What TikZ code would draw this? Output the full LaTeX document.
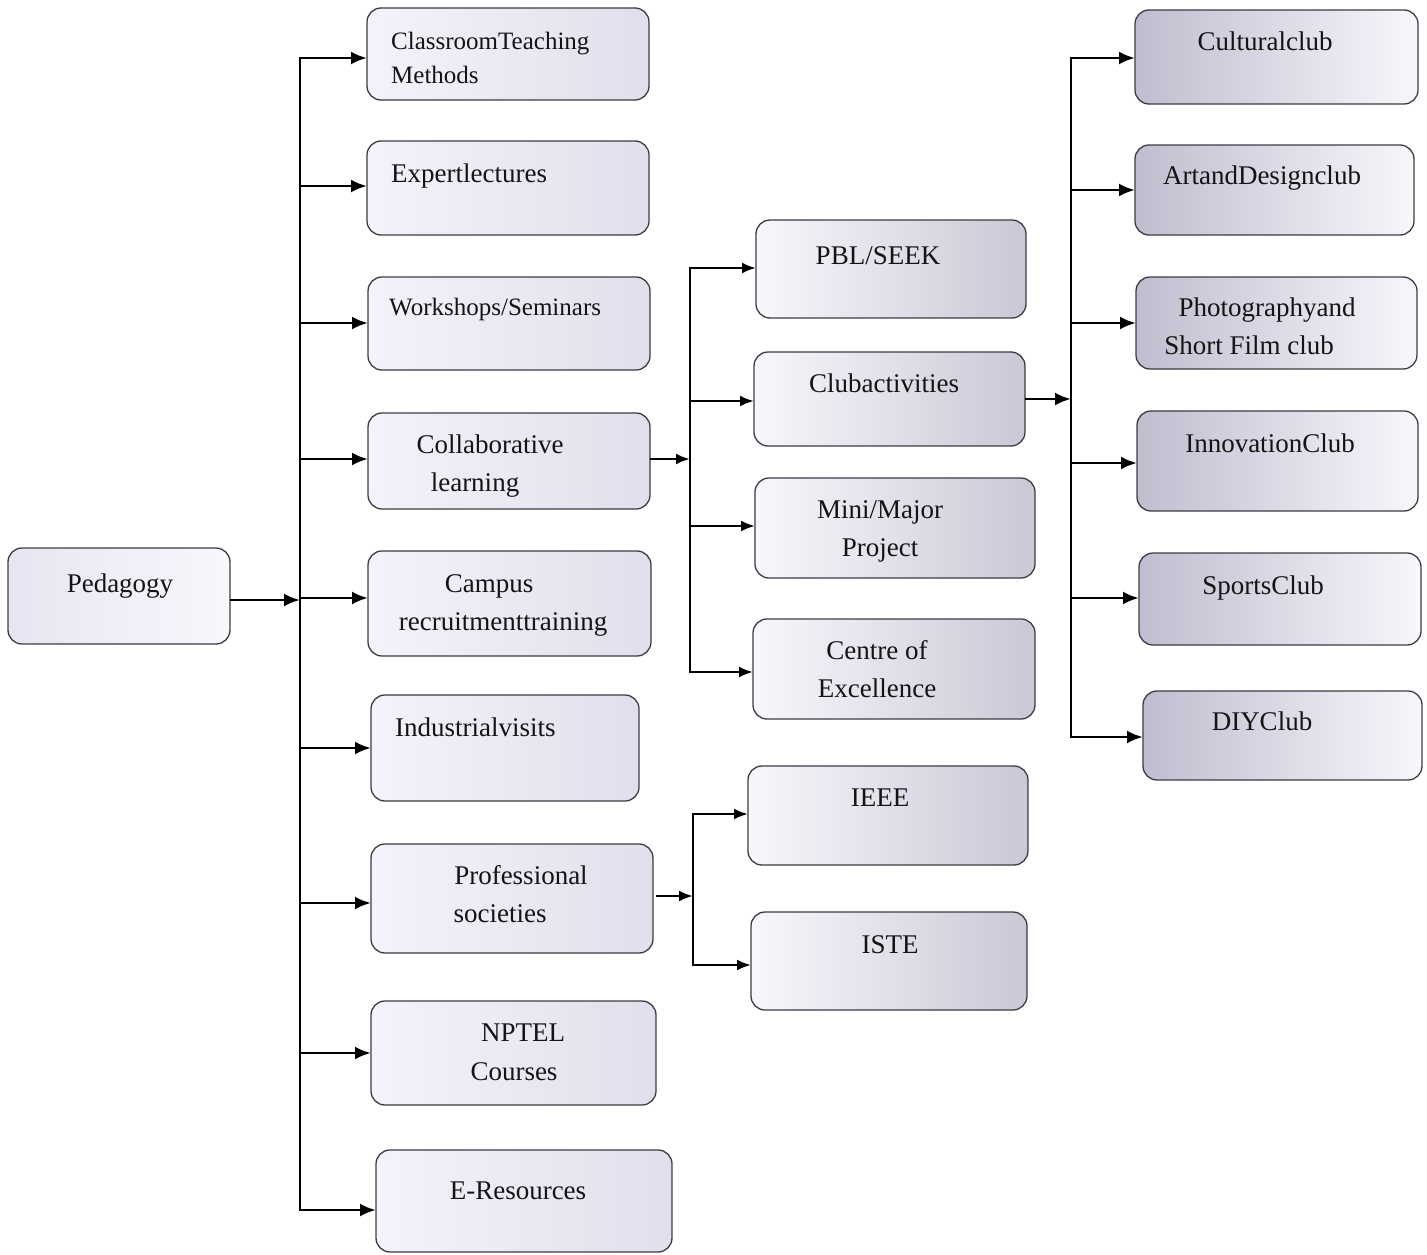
\documentclass[tikz,border=0pt]{standalone}
\usepackage{fontspec}
\setmainfont{Liberation Serif}
\usetikzlibrary{arrows.meta}
\definecolor{lavW}{RGB}{248,247,252}
\definecolor{lavA}{RGB}{244,242,250}
\definecolor{lavB}{RGB}{226,223,236}
\definecolor{lavP}{RGB}{232,229,242}
\definecolor{lavD}{RGB}{203,200,214}
\definecolor{lavC}{RGB}{192,189,207}
\definecolor{edge}{RGB}{60,60,68}
\newcommand\bxx[6]{\node[#1,anchor=north west,minimum width={#5-#3},minimum height={#6-#4}] (#2) at (#3,#4) {};}
\begin{document}
\begin{tikzpicture}[x=1pt,y=-1pt,
  bx/.style={draw=edge, line width=1.3pt, rounded corners=14pt, inner sep=0pt, outer sep=0pt},
  colP/.style={bx, left color=lavP, right color=lavW},
  colA/.style={bx, left color=lavA, right color=lavB},
  colB/.style={bx, left color=lavW, right color=lavD},
  colC/.style={bx, left color=lavC, right color=lavW},
  txt/.style={inner sep=0pt, font=\fontsize{27}{30}\selectfont, text=black!92},
  stxt/.style={txt, font=\fontsize{25}{30}\selectfont},
  ln/.style={line width=2.9pt, black},
  sln/.style={line width=2.4pt, black},
  tipA/.style={},
  arr/.style={ln, -{Latex[length=16pt,width=13pt]}},
  sarr/.style={sln, -{Latex[length=14pt,width=11pt]}},
]
\useasboundingbox[fill=white] (0,0) rectangle (1427,1255);

% ---------- boxes ----------
\bxx{colP}{ped}{8}{548}{230}{644}
\bxx{colA}{cls}{367}{8}{649}{100}
\bxx{colA}{exp}{367}{141}{649}{235}
\bxx{colA}{wks}{368}{277}{650}{370}
\bxx{colA}{col}{368}{413}{650}{509}
\bxx{colA}{cam}{368}{551}{651}{656}
\bxx{colA}{ind}{371}{695}{639}{801}
\bxx{colA}{pro}{371}{844}{653}{953}
\bxx{colA}{npt}{371}{1001}{656}{1105}
\bxx{colA}{ere}{376}{1150}{672}{1252}

\bxx{colB}{pbl}{756}{220}{1026}{318}
\bxx{colB}{clu}{754}{352}{1025}{446}
\bxx{colB}{min}{755}{478}{1035}{578}
\bxx{colB}{coe}{753}{619}{1035}{719}
\bxx{colB}{iee}{748}{766}{1028}{865}
\bxx{colB}{ist}{751}{912}{1027}{1010}

\bxx{colC}{cul}{1135}{10}{1418}{104}
\bxx{colC}{art}{1135}{145}{1414}{235}
\bxx{colC}{pho}{1136}{277}{1417}{369}
\bxx{colC}{inn}{1137}{411}{1418}{511}
\bxx{colC}{spo}{1139}{553}{1421}{645}
\bxx{colC}{diy}{1143}{691}{1422}{780}

% ---------- texts ----------
\node[txt,anchor=base] (ped-t) at (120,592) {Pedagogy};
\node[stxt,anchor=base west] (cls-t1) at (391,50) {ClassroomTeaching};
\node[stxt,anchor=base west] (cls-t2) at (391,83) {Methods};
\node[txt,anchor=base west] (exp-t) at (391,182) {Expertlectures};
\node[stxt,anchor=base west] (wks-t) at (389,315) {Workshops/Seminars};
\node[txt,anchor=base] (col-t1) at (490,453) {Collaborative};
\node[txt,anchor=base] (col-t2) at (475,491) {learning};
\node[txt,anchor=base] (cam-t1) at (489,592) {Campus};
\node[txt,anchor=base] (cam-t2) at (503,630) {recruitmenttraining};
\node[txt,anchor=base west] (ind-t) at (395,736) {Industrialvisits};
\node[txt,anchor=base] (pro-t1) at (521,884) {Professional};
\node[txt,anchor=base] (pro-t2) at (500,922) {societies};
\node[txt,anchor=base] (npt-t1) at (523,1041) {NPTEL};
\node[txt,anchor=base] (npt-t2) at (514,1080) {Courses};
\node[txt,anchor=base] (ere-t) at (518,1199) {E-Resources};

\node[txt,anchor=base] (pbl-t) at (878,264) {PBL/SEEK};
\node[txt,anchor=base] (clu-t) at (884,392) {Clubactivities};
\node[txt,anchor=base] (min-t1) at (880,518) {Mini/Major};
\node[txt,anchor=base] (min-t2) at (880,556) {Project};
\node[txt,anchor=base] (coe-t1) at (877,659) {Centre of};
\node[txt,anchor=base] (coe-t2) at (877,697) {Excellence};
\node[txt,anchor=base] (iee-t) at (880,806) {IEEE};
\node[txt,anchor=base] (ist-t) at (890,953) {ISTE};

\node[txt,anchor=base] (cul-t) at (1265,51) {Culturalclub};
\node[txt,anchor=base] (art-t) at (1262,184) {ArtandDesignclub};
\node[txt,anchor=base] (pho-t1) at (1267,316) {Photographyand};
\node[txt,anchor=base] (pho-t2) at (1249,354) {Short Film club};
\node[txt,anchor=base] (inn-t) at (1270,452) {InnovationClub};
\node[txt,anchor=base] (spo-t) at (1263,594) {SportsClub};
\node[txt,anchor=base] (diy-t) at (1262,730) {DIYClub};

% ---------- main trunk ----------
\coordinate (pj) at (300,600);
\coordinate (t1) at (300,58);
\coordinate (t2) at (300,186);
\coordinate (t3) at (300,323);
\coordinate (t4) at (300,459);
\coordinate (t5) at (300,598);
\coordinate (t6) at (300,748);
\coordinate (t7) at (300,903);
\coordinate (t8) at (300,1053);
\coordinate (t9) at (300,1210);
\draw[arr] (ped.east |- pj) -- (pj);
\draw[ln,{Latex[length=16pt,width=13pt]}-{Latex[length=16pt,width=13pt]}]
  (t1 -| cls.west) -- (t1) -- (t9) -- (t9 -| ere.west);
\foreach \t/\b in {t2/exp,t3/wks,t4/col,t5/cam,t6/ind,t7/pro,t8/npt}
  \draw[arr] (\t) -- (\t -| \b.west);

% ---------- collaborative branch ----------
\coordinate (cj) at (690,459);
\coordinate (c1) at (690,268);
\coordinate (c2) at (690,401);
\coordinate (c3) at (690,526);
\coordinate (c4) at (690,672);
\draw[sarr] (col.east |- cj) -- (cj);
\draw[sln,{Latex[length=14pt,width=11pt]}-{Latex[length=14pt,width=11pt]}]
  (c1 -| pbl.west) -- (c1) -- (c4) -- (c4 -| coe.west);
\draw[sarr] (c2) -- (c2 -| clu.west);
\draw[sarr] (c3) -- (c3 -| min.west);

% ---------- professional branch ----------
\coordinate (pp) at (693,896);
\coordinate (p1) at (693,814);
\coordinate (p2) at (693,965);
\draw[sarr] ([xshift=3pt]pro.east |- pp) -- (pp);
\draw[sln,{Latex[length=14pt,width=11pt]}-{Latex[length=14pt,width=11pt]}]
  (p1 -| iee.west) -- (p1) -- (p2) -- (p2 -| ist.west);

% ---------- club branch ----------
\coordinate (kj) at (1071,399);
\coordinate (k1) at (1071,58);
\coordinate (k2) at (1071,190);
\coordinate (k3) at (1071,323);
\coordinate (k4) at (1071,463);
\coordinate (k5) at (1071,598);
\coordinate (k6) at (1071,737);
\draw[arr] (clu.east |- kj) -- (kj);
\draw[ln,{Latex[length=16pt,width=13pt]}-{Latex[length=16pt,width=13pt]}]
  (k1 -| cul.west) -- (k1) -- (k6) -- (k6 -| diy.west);
\foreach \t/\b in {k2/art,k3/pho,k4/inn,k5/spo}
  \draw[arr] (\t) -- (\t -| \b.west);
\end{tikzpicture}
\end{document}
